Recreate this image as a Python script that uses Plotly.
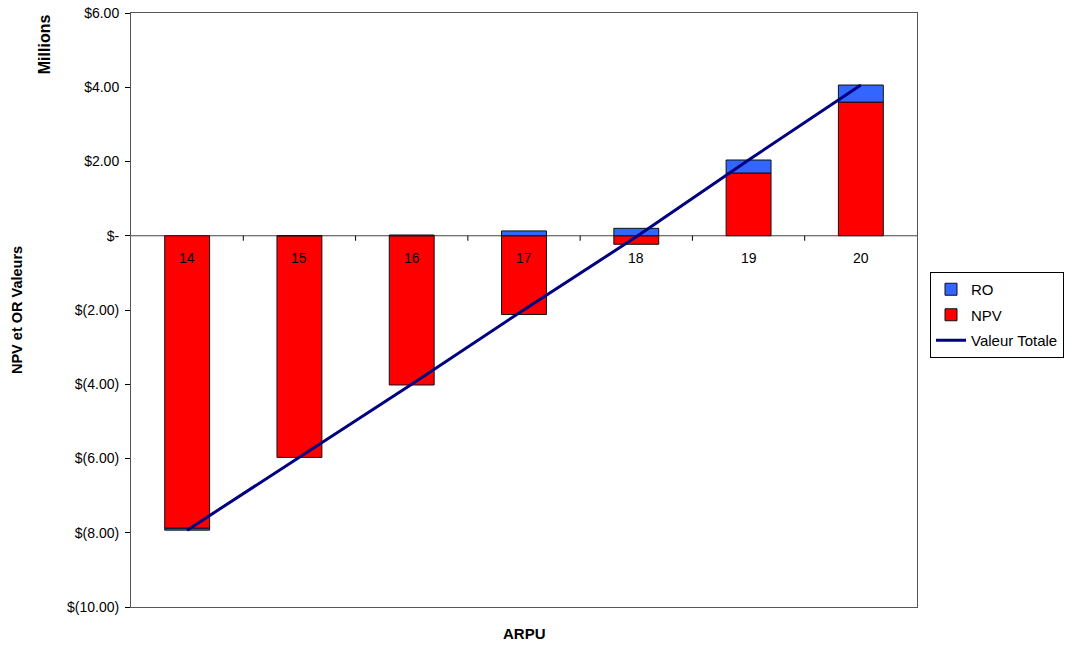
import plotly.graph_objects as go

# ARPU levels and valuation components (in millions of dollars)
arpu = ["14", "15", "16", "17", "18", "19", "20"]
npv = [-7.88, -5.97, -4.02, -2.12, -0.23, 1.69, 3.60]
ro = [-0.05, 0.00, 0.02, 0.13, 0.20, 0.35, 0.46]
total = [round(n + r, 2) for n, r in zip(npv, ro)]

y_ticks = [6, 4, 2, 0, -2, -4, -6, -8, -10]
y_tick_text = ["$6.00", "$4.00", "$2.00", "$-", "$(2.00)", "$(4.00)",
               "$(6.00)", "$(8.00)", "$(10.00)"]

font_family = "Liberation Sans, Arial, sans-serif"
edge = dict(color="#111111", width=1)

fig = go.Figure()
fig.add_trace(go.Bar(
    x=arpu, y=npv, name="NPV", marker=dict(color="#FF0000", line=edge),
    legendrank=2, legendgroup="npv",
))
fig.add_trace(go.Bar(
    x=arpu, y=ro, name="RO", marker=dict(color="#3366FF", line=edge),
    legendrank=1, legendgroup="ro",
))
fig.add_trace(go.Scatter(
    x=arpu, y=total, name="Valeur Totale", mode="lines",
    line=dict(color="#000080", width=3), legendrank=3, legendgroup="tot",
))

# Category labels sit just under the zero line (category axis uses serial index)
annotations = [
    dict(x=i, y=0, xref="x", yref="y", text=c, showarrow=False,
         yanchor="middle", yshift=-22, font=dict(size=14, color="#000000"))
    for i, c in enumerate(arpu)
]
# Axis titles and unit note
annotations += [
    dict(x=-0.109, y=0.948, xref="paper", yref="paper", text="<b>Millions</b>",
         showarrow=False, textangle=-90, xanchor="center", yanchor="middle",
         font=dict(size=16, color="#000000")),
    dict(x=-0.145, y=0.5, xref="paper", yref="paper", text="<b>NPV et OR Valeurs</b>",
         showarrow=False, textangle=-90, xanchor="center", yanchor="middle",
         font=dict(size=14.5, color="#000000")),
    dict(x=0.5, y=-0.0438, xref="paper", yref="paper", text="<b>ARPU</b>",
         showarrow=False, xanchor="center", yanchor="middle",
         font=dict(size=15, color="#000000")),
]

# Small tick marks along the zero line between categories
shapes = [
    dict(type="line", xref="x", yref="y", x0=i + 0.5, x1=i + 0.5,
         ysizemode="pixel", yanchor=0, y0=0, y1=-5,
         line=dict(color="#000000", width=1))
    for i in range(len(arpu) - 1)
]
shapes.append(dict(type="line", xref="paper", yref="y", x0=0, x1=1, y0=0, y1=0,
                   line=dict(color="#444444", width=1), layer="below"))

fig.update_layout(
    width=1072, height=650,
    margin=dict(l=131, r=155, t=13, b=43),
    paper_bgcolor="white", plot_bgcolor="white",
    barmode="relative", bargap=0.6,
    font=dict(family=font_family, size=14, color="#000000"),
    showlegend=True,
    legend=dict(
        xref="container", yref="container",
        x=930 / 1072, y=1 - 272 / 650, xanchor="left", yanchor="top",
        bordercolor="#000000", borderwidth=1, bgcolor="white",
        font=dict(size=15), tracegroupgap=3, itemwidth=30,
    ),
    xaxis=dict(
        type="category", range=[-0.5, 6.5],
        showticklabels=False, ticks="", showgrid=False, automargin=False,
        showline=True, linecolor="#555555", linewidth=1, mirror=True,
    ),
    yaxis=dict(
        range=[-10, 6], tickvals=y_ticks, ticktext=y_tick_text,
        ticks="outside", ticklen=5, tickcolor="#000000", ticklabelstandoff=3,
        showgrid=False, zeroline=False, automargin=False,
        showline=True, linecolor="#555555", linewidth=1, mirror=True,
        tickfont=dict(size=14),
    ),
    annotations=annotations,
    shapes=shapes,
)

fig.write_html("out.html")
